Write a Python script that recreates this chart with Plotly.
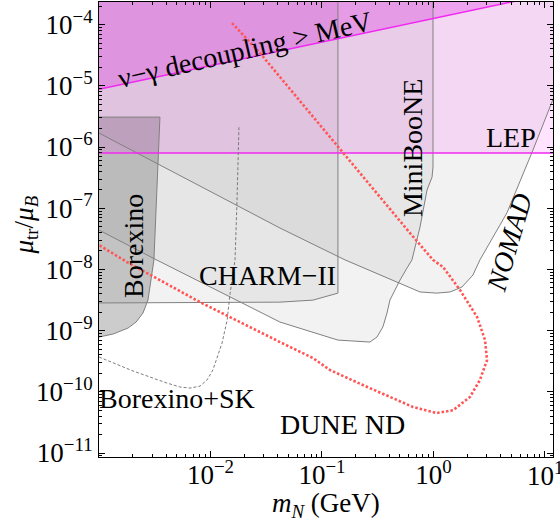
import plotly.graph_objects as go

# ---------------- data ----------------
nu_gamma_m = [1e-3, 11.8]
nu_gamma_mu = [8.8e-6, 3.26e-4]

lep_m = [5e-4, 20.0]
lep_mu = [8.0e-7, 8.0e-7]

nomad_m = [1e-3, 0.042, 0.161, 0.331, 0.50, 0.757, 1.07, 1.41, 1.80, 2.26, 2.61, 4.56, 7.8, 11.1, 11.8]
nomad_mu = [1.69e-6, 4.74e-8, 1.43e-8, 8.1e-9, 6.0e-9, 4.28e-9, 4.1e-9, 4.28e-9, 5.15e-9, 8.1e-9,
            1.43e-8, 8.4e-8, 8.9e-7, 4.5e-6, 6.0e-6]

miniboone_m = [1e-3, 3.05e-3, 0.042, 0.083, 0.139, 0.269, 0.311, 0.352, 0.383, 0.407, 0.452, 0.501,
               0.578, 0.641, 0.757, 0.875, 0.97, 0.99, 0.99]
miniboone_mu = [4.4e-8, 1.53e-8, 1.38e-9, 9.5e-10, 7.0e-10, 6.5e-10, 7.85e-10, 1.15e-9, 1.94e-9, 3.16e-9,
                4.6e-9, 6.7e-9, 1.05e-8, 1.43e-8, 4.93e-8, 1.98e-7, 3.2e-7, 4.7e-7, 1e-2]

charm_m = [1e-3, 0.042, 0.083, 0.139, 0.139]
charm_mu = [2.83e-9, 2.92e-9, 3.15e-9, 4.1e-9, 1e-2]

borexino_m = [1e-3, 3.52e-3, 3.11e-3, 2.75e-3, 2.48e-3, 2.15e-3, 1.82e-3, 1.34e-3, 1e-3]
borexino_mu = [3.08e-6, 3.08e-6, 1.43e-8, 3.16e-9, 1.94e-9, 1.38e-9, 1.10e-9, 8.8e-10, 7.85e-10]

borexino_sk_m = [1e-3, 2.02e-3, 4.07e-3, 5.32e-3, 6.55e-3, 8.05e-3, 9.31e-3, 1.05e-2, 1.27e-2, 1.41e-2,
                 1.50e-2, 1.66e-2, 1.73e-2, 1.80e-2]
borexino_sk_mu = [3.7e-10, 2.19e-10, 1.39e-10, 1.2e-10, 1.15e-10, 1.24e-10, 1.56e-10, 2.27e-10, 6.27e-10,
                  1.49e-9, 4.1e-9, 1.43e-8, 1.36e-7, 2.1e-6]

dune_m = [1.56e-2, 2.78e-2, 4.2e-2, 0.139, 0.331, 0.615, 0.99, 1.22, 1.73, 2.46, 2.90, 3.02, 2.61, 2.12,
          1.50, 1.07, 0.655, 0.331, 0.233, 0.118, 0.083, 0.042, 8.05e-3, 1.78e-3, 1e-3]
dune_mu = [1.06e-4, 3.43e-5, 1.39e-5, 1.0e-6, 1.52e-7, 3.94e-8, 1.43e-8, 1.09e-8, 4.6e-9, 1.67e-9, 7.0e-10,
           3.3e-10, 1.56e-10, 8.2e-11, 5.0e-11, 4.5e-11, 5.65e-11, 9.6e-11, 1.29e-10, 2.27e-10, 3.56e-10,
           6.5e-10, 2.92e-9, 1.32e-8, 2.5e-8]

x_tickvals = [1e-2, 1e-1, 1, 10]
x_ticktext = ["10<sup>−2</sup>", "10<sup>−1</sup>", "10<sup>0</sup>", "10<sup>1</sup>"]
y_tickvals = [1e-11, 1e-10, 1e-9, 1e-8, 1e-7, 1e-6, 1e-5, 1e-4]
y_ticktext = ["10<sup>−11</sup>", "10<sup>−10</sup>", "10<sup>−9</sup>", "10<sup>−8</sup>",
              "10<sup>−7</sup>", "10<sup>−6</sup>", "10<sup>−5</sup>", "10<sup>−4</sup>"]

# ---------------- styles ----------------
FONT = "Liberation Serif"
TOP = 1e-2      # closure level above the visible range
LEFT = 5e-4     # closure level left of the visible range
GRAY_LINE = "rgb(128,128,128)"
MAG_LINE = "rgb(240,40,240)"

fig = go.Figure()


def region(xs, ys, color):
    px = [LEFT] + list(xs) + [xs[-1], LEFT]
    py = [ys[0]] + list(ys) + [TOP, TOP]
    fig.add_trace(go.Scatter(x=px, y=py, mode="lines", fill="toself", fillcolor=color,
                             line=dict(width=0), hoverinfo="skip", showlegend=False))


# fills: grey bounds first, pink ones over them
region(nomad_m, nomad_mu, "rgba(128,128,128,0.10)")
region(miniboone_m, miniboone_mu, "rgba(128,128,128,0.10)")
region(charm_m, charm_mu, "rgba(128,128,128,0.10)")
fig.add_trace(go.Scatter(x=borexino_m, y=borexino_mu, mode="lines", fill="toself",
                         fillcolor="rgba(100,100,100,0.33)", line=dict(width=0),
                         hoverinfo="skip", showlegend=False))
region(lep_m, lep_mu, "rgba(255,0,255,0.11)")
region(nu_gamma_m, nu_gamma_mu, "rgba(220,0,220,0.24)")

# boundary lines
for xs, ys in [(nomad_m, nomad_mu), (miniboone_m, miniboone_mu), (charm_m, charm_mu),
               (borexino_m, borexino_mu)]:
    fig.add_trace(go.Scatter(x=xs, y=ys, mode="lines", line=dict(color=GRAY_LINE, width=1),
                             hoverinfo="skip", showlegend=False))
for xs, ys in [(lep_m, lep_mu), (nu_gamma_m, nu_gamma_mu)]:
    fig.add_trace(go.Scatter(x=xs, y=ys, mode="lines", line=dict(color=MAG_LINE, width=1.5),
                             hoverinfo="skip", showlegend=False))

fig.add_trace(go.Scatter(x=borexino_sk_m, y=borexino_sk_mu, mode="lines",
                         line=dict(color="rgb(110,110,110)", width=0.9, dash="3px,2px"),
                         hoverinfo="skip", showlegend=False))
fig.add_trace(go.Scatter(x=dune_m, y=dune_mu, mode="lines",
                         line=dict(color="rgb(255,85,85)", width=2.6, dash="2.5px,2px"),
                         hoverinfo="skip", showlegend=False))

# ---------------- labels ----------------
labels = [
    ("ν−γ decoupling > MeV", -1.69, -4.40, -13),
    ("LEP", 0.695, -5.837, 0),
    ("MiniBooNE", -0.193, -6.018, -90),
    ("<i>NOMAD</i>", 0.686, -7.552, -74),
    ("CHARM−II", -1.493, -8.092, 0),
    ("Borexino", -2.695, -7.618, -90),
    ("Borexino+SK", -2.300, -10.101, 0),
    ("DUNE ND", -0.812, -10.526, 0),
]
for txt, lx, ly, ang in labels:
    fig.add_annotation(x=lx, y=ly, xref="x", yref="y", text=txt, showarrow=False,
                       xanchor="center", yanchor="middle", textangle=ang,
                       font=dict(family=FONT, size=28, color="black"))

# last x tick label sits at the page edge (partly cut), drawn as an annotation
fig.add_annotation(x=1, y=0, xref="x", yref="paper", yshift=-17, showarrow=False,
                   xanchor="center", yanchor="middle", text=x_ticktext[-1],
                   font=dict(family=FONT, size=27, color="black"))

fig.add_annotation(x=0.5, y=0, xref="paper", yref="paper", yshift=-48, showarrow=False,
                   xanchor="center", yanchor="middle",
                   text="<i>m</i><sub><i>N</i></sub> (GeV)",
                   font=dict(family=FONT, size=27, color="black"))
fig.add_annotation(x=0, y=0.5, xref="paper", yref="paper", xshift=-74, yshift=4, showarrow=False,
                   xanchor="center", yanchor="middle",
                   textangle=-90, text="<i>μ</i><sub>tr</sub>/<i>μ</i><sub><i>B</i></sub>",
                   font=dict(family=FONT, size=27, color="black"))

minor_x = [k * 10 ** e for e in range(-3, 2) for k in range(2, 10)]
minor_y = [k * 10 ** e for e in range(-12, -3) for k in range(2, 10)]

axis_common = dict(type="log", showline=True, linecolor="black", linewidth=1, mirror="allticks",
                   ticks="inside", ticklen=6, tickwidth=1, tickcolor="black", showgrid=False,
                   zeroline=False, tickmode="array",
                   tickfont=dict(family=FONT, size=27, color="black"))

fig.update_xaxes(range=[-3, 1.072], tickvals=x_tickvals, ticktext=x_ticktext[:-1] + [""],
                 ticklabelstandoff=-6,
                 minor=dict(ticks="inside", ticklen=3, tickwidth=1, tickcolor="black",
                            tickmode="array", tickvals=minor_x, showgrid=False),
                 **axis_common)
fig.update_yaxes(range=[-11.065, -3.631], tickvals=y_tickvals, ticktext=y_ticktext,
                 minor=dict(ticks="inside", ticklen=3, tickwidth=1, tickcolor="black",
                            tickmode="array", tickvals=minor_y, showgrid=False),
                 **axis_common)

fig.update_layout(width=560, height=527, margin=dict(l=99, r=7, t=2, b=70),
                  plot_bgcolor="white", paper_bgcolor="white", showlegend=False)

fig.write_html("out.html")
